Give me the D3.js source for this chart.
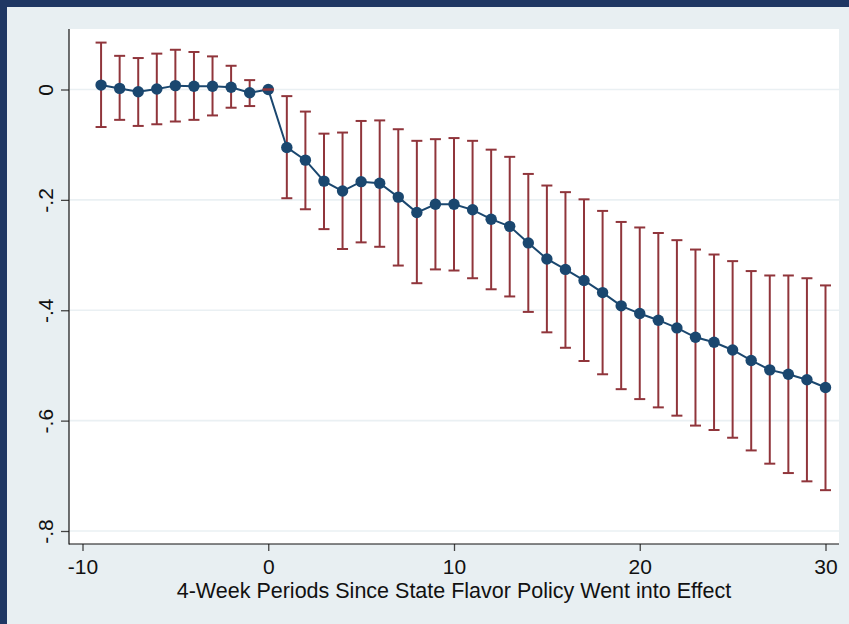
<!DOCTYPE html>
<html>
<head>
<meta charset="utf-8">
<script src="https://cdn.jsdelivr.net/npm/d3@7/dist/d3.min.js"></script>
<style>
  html, body { margin: 0; padding: 0; background: #1f3763; }
  svg { display: block; }
  text { font-family: "Liberation Sans", Arial, Helvetica, sans-serif; fill: #111; }
</style>
</head>
<body>
<svg id="chart" width="849" height="624"></svg>
<script>
// Event-study estimates by 4-week period relative to policy start
const periods = [-9,-8,-7,-6,-5,-4,-3,-2,-1,0,1,2,3,4,5,6,7,8,9,10,11,12,13,14,15,16,17,18,19,20,21,22,23,24,25,26,27,28,29,30];
const coef = [0.008,0.002,-0.004,0.001,0.007,0.006,0.006,0.004,-0.006,0,
  -0.105,-0.128,-0.166,-0.184,-0.167,-0.170,-0.195,-0.223,-0.208,-0.208,
  -0.218,-0.235,-0.248,-0.278,-0.307,-0.326,-0.346,-0.368,-0.392,-0.406,
  -0.418,-0.432,-0.449,-0.458,-0.472,-0.491,-0.508,-0.516,-0.526,-0.540];
const ciHigh = [0.085,0.061,0.057,0.065,0.072,0.068,0.060,0.043,0.017,0,
  -0.012,-0.040,-0.080,-0.078,-0.057,-0.056,-0.072,-0.093,-0.090,-0.088,
  -0.093,-0.109,-0.122,-0.153,-0.174,-0.186,-0.199,-0.220,-0.240,-0.250,
  -0.260,-0.273,-0.290,-0.299,-0.311,-0.329,-0.337,-0.337,-0.342,-0.355];
const ciLow = [-0.068,-0.055,-0.066,-0.063,-0.058,-0.055,-0.047,-0.033,-0.030,0,
  -0.197,-0.217,-0.253,-0.289,-0.277,-0.285,-0.319,-0.351,-0.326,-0.328,
  -0.342,-0.362,-0.375,-0.403,-0.440,-0.468,-0.492,-0.516,-0.543,-0.561,
  -0.576,-0.591,-0.609,-0.617,-0.631,-0.654,-0.678,-0.695,-0.710,-0.726];

const xTicks = [-10, 0, 10, 20, 30];
const xTickLabels = ["-10", "0", "10", "20", "30"];
const yTicks = [-0.8, -0.6, -0.4, -0.2, 0];
const yTickLabels = ["-.8", "-.6", "-.4", "-.2", "0"];
const xTitle = "4-Week Periods Since State Flavor Policy Went into Effect";

const rows = periods.map((p, i) => ({ p, b: coef[i], lo: ciLow[i], hi: ciHigh[i] }));

const svg = d3.select("#chart");
const W = 849, H = 624;
const plot = { left: 69, right: 839, top: 29, bottom: 544 };

const navy = "#1a476f";
const maroon = "#90353b";

// outer frame and graph region
svg.append("rect").attr("width", W).attr("height", H).attr("fill", "#1f3763");
svg.append("rect").attr("x", 7).attr("y", 7).attr("width", W - 7).attr("height", H - 7).attr("fill", "#e8eff2");
svg.append("rect")
  .attr("x", plot.left).attr("y", plot.top)
  .attr("width", plot.right - plot.left).attr("height", plot.bottom - plot.top)
  .attr("fill", "#ffffff");

const x = d3.scaleLinear().domain([-10, 30]).range([82.5, 825.5]);
const y = d3.scaleLinear().domain([0, -0.8]).range([89.5, 531]);

// horizontal grid lines
svg.append("g").selectAll("line").data(yTicks).join("line")
  .attr("x1", plot.left + 1).attr("x2", plot.right)
  .attr("y1", d => y(d)).attr("y2", d => y(d))
  .attr("stroke", "#eaf0f3").attr("stroke-width", 1.6);

// axes
const yAxis = d3.axisLeft(y).tickValues(yTicks)
  .tickFormat((d, i) => yTickLabels[i]).tickSize(8).tickPadding(0);
const gy = svg.append("g").attr("transform", `translate(${plot.left},0)`).call(yAxis);
gy.select(".domain").remove();
gy.selectAll(".tick line").attr("stroke", "#444").attr("stroke-width", 1.3);
gy.selectAll(".tick text")
  .attr("x", null).attr("dy", null)
  .attr("transform", "translate(-16,0) rotate(-90)")
  .attr("text-anchor", "middle")
  .style("font-size", "21px").style("fill", "#111");

const xAxis = d3.axisBottom(x).tickValues(xTicks).tickSize(7)
  .tickFormat((d, i) => xTickLabels[i]);
const gx = svg.append("g").attr("transform", `translate(0,${plot.bottom})`).call(xAxis);
gx.select(".domain").remove();
gx.selectAll(".tick line").attr("stroke", "#444").attr("stroke-width", 1.3);
gx.selectAll(".tick text")
  .attr("y", 30).attr("dy", null)
  .style("font-size", "21px").style("fill", "#111");

svg.append("line").attr("x1", plot.left).attr("x2", plot.left)
  .attr("y1", plot.top).attr("y2", plot.bottom + 0.5)
  .attr("stroke", "#111").attr("stroke-width", 1.2);
svg.append("line").attr("x1", plot.left).attr("x2", plot.right)
  .attr("y1", plot.bottom).attr("y2", plot.bottom)
  .attr("stroke", "#111").attr("stroke-width", 1.2);

// confidence interval stems
const capHalf = 5.5;
svg.append("g").selectAll("line").data(rows).join("line")
  .attr("x1", d => x(d.p)).attr("x2", d => x(d.p))
  .attr("y1", d => y(d.hi)).attr("y2", d => y(d.lo))
  .attr("stroke", maroon).attr("stroke-width", 2);

// connected point estimates
svg.append("path").datum(rows)
  .attr("fill", "none").attr("stroke", navy).attr("stroke-width", 2)
  .attr("d", d3.line().x(d => x(d.p)).y(d => y(d.b)));
svg.append("g").selectAll("circle").data(rows).join("circle")
  .attr("cx", d => x(d.p)).attr("cy", d => y(d.b)).attr("r", 5.7)
  .attr("fill", navy);

// interval caps
const caps = svg.append("g");
["hi", "lo"].forEach(k => {
  caps.append("g").selectAll("line").data(rows).join("line")
    .attr("x1", d => x(d.p) - capHalf).attr("x2", d => x(d.p) + capHalf)
    .attr("y1", d => y(d[k])).attr("y2", d => y(d[k]))
    .attr("stroke", maroon).attr("stroke-width", 2);
});

// axis title
svg.append("text")
  .attr("x", (plot.left + plot.right) / 2).attr("y", 598)
  .attr("text-anchor", "middle")
  .style("font-size", "21.5px")
  .text(xTitle);
</script>
</body>
</html>
